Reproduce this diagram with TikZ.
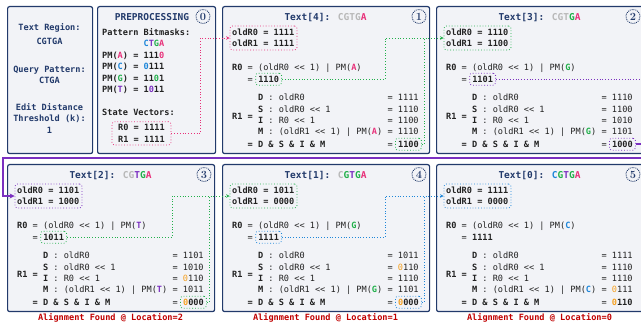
\documentclass[tikz,border=0pt]{standalone}
\usepackage{fontspec}
\newfontfamily\mono{DejaVu Sans Mono}
\usetikzlibrary{arrows.meta,calc}
\definecolor{navy}{HTML}{223A6B}
\definecolor{panelbg}{HTML}{F2F3F7}
\definecolor{textc}{HTML}{222222}
\definecolor{pinkc}{HTML}{E8317A}
\definecolor{greenc}{HTML}{22B04B}
\definecolor{bluec}{HTML}{1E86D9}
\definecolor{purplec}{HTML}{7B30C0}
\definecolor{orangec}{HTML}{F5A020}
\definecolor{grayc}{HTML}{B8B8B8}
\definecolor{redc}{HTML}{C00000}
\newcommand\bodyf{\mono\fontsize{8.6}{10}\selectfont}
\newcommand\titlef{\mono\bfseries\fontsize{9.5}{11}\selectfont}
\newcommand\myshl{<\kern0pt<}
\newcommand\og[1]{\textcolor{orangec}{#1}}
\tikzset{
  panel/.style={draw=navy, line width=1.2pt, fill=panelbg, rounded corners=2pt,
    minimum width=207pt, minimum height=147pt, anchor=north west, inner sep=0pt},
  txt/.style={anchor=base west, inner sep=0pt, font=\bodyf, text=textc},
  btxt/.style={txt, font=\bodyf\bfseries},
  ctxt/.style={anchor=base, inner sep=0pt, font=\bodyf\bfseries, text=navy},
  ttl/.style={anchor=base, inner sep=0pt, font=\titlef, text=navy},
  numc/.style={circle, draw=navy, densely dotted, line width=0.9pt, minimum size=14pt,
    inner sep=0pt, font=\fontsize{11}{11}\selectfont\bfseries, text=navy},
  obox/.style={draw=#1, dotted, line width=0.8pt, rounded corners=2.5pt, inner sep=0pt, fill=panelbg},
  vbox/.style={obox=#1, anchor=base west, inner xsep=2.6pt, inner ysep=2pt,
    text height=7.3pt, text depth=0.7pt, font=\bodyf\bfseries, text=textc},
  conn/.style={draw=#1, dotted, line width=0.8pt, -{Stealth[length=3.5pt,width=3.5pt]}},
  connl/.style={draw=#1, dotted, line width=0.8pt},
  pthick/.style={draw=purplec, line width=1.8pt, -{Stealth[length=5pt,width=5pt]}},
  lab/.style={anchor=base, inner sep=0pt, font=\bodyf\bfseries, text=redc}
}
\newcommand\calcrows[6]{%
  \node[txt] (#1c) at (10,64.5) {\textbf{R0} = (oldR0 \myshl{} 1) | PM(\textbf{#2})};
  \node[txt] (#1d) at (25.53,76.5) {=};
  \node[txt] (#1e) at (35.89,95) {\textbf{D} : oldR0};
  \node[txt] (#1f) at (165.34,95) {= #3};
  \node[txt] (#1g) at (35.89,106.3) {\textbf{S} : oldR0 \myshl{} 1};
  \node[txt] (#1h) at (165.34,106.3) {= #4};
  \node[txt] (#1i) at (35.89,117.6) {\textbf{I} : R0 \myshl{} 1};
  \node[txt] (#1j) at (165.34,117.6) {= #5};
  \node[txt] (#1k) at (35.89,128.9) {\textbf{M} : (oldR1 \myshl{} 1) | PM(\textbf{#2})};
  \node[txt] (#1l) at (165.34,128.9) {= #6};
  \node[btxt] (#1m) at (10,114) {R1 =};
  \node[btxt] (#1n) at (25.53,141.5) {= D \& S \& I \& M};
  \node[txt] (#1o) at (165.34,141.5) {=};
}
\newcommand\oldbox[4]{%
  \node[obox=#2, minimum width=67pt, minimum height=24pt] (#1old) at (41.5,32) {};
  \node[btxt] (#1oa) at (10,29.5) {oldR0 = #3};
  \node[btxt] (#1ob) at (10,41) {oldR1 = #4};
}
\begin{document}
\begin{tikzpicture}[x=1pt,y=-1pt]
\useasboundingbox (0,0) rectangle (641,326);

% ---------- info panel ----------
\node[panel, minimum width=85pt] (PA) at (7,6) {};
\node[ctxt] (pa1) at (49.5,31) {Text Region:};
\node[ctxt] (pa2) at (49.5,45) {CGTGA};
\node[ctxt] (pa3) at (49.5,73) {Query Pattern:};
\node[ctxt] (pa4) at (49.5,84) {CTGA};
\node[ctxt] (pa5) at (49.5,111) {Edit Distance};
\node[ctxt] (pa6) at (49.5,122) {Threshold (k):};
\node[ctxt] (pa7) at (49.5,134) {1};

% ---------- preprocessing ----------
\node[panel, minimum width=118pt] (PB) at (97,6) {};
\node[ttl] (pBt) at (152,20.5) {PREPROCESSING};
\node[numc] (pBn) at (203,16.5) {0};
\node[btxt] (pB1) at (102,36) {Pattern Bitmasks:};
\node[btxt] (pB2) at (143.4,46.5) {\textcolor{bluec}{C}\textcolor{purplec}{T}\textcolor{greenc}{G}\textcolor{pinkc}{A}};
\node[btxt] (pB3) at (102,58.2) {PM(\textcolor{pinkc}{A}) = 111\textcolor{pinkc}{0}};
\node[btxt] (pB4) at (102,69.9) {PM(\textcolor{bluec}{C}) = \textcolor{bluec}{0}111};
\node[btxt] (pB5) at (102,81.5) {PM(\textcolor{greenc}{G}) = 11\textcolor{greenc}{0}1};
\node[btxt] (pB6) at (102,92.8) {PM(\textcolor{purplec}{T}) = 1\textcolor{purplec}{0}11};
\node[btxt] (pB7) at (102,115.9) {State Vectors:};
\node[obox=pinkc, minimum width=59pt, minimum height=23.3pt] (pBbox) at (141.5,133.35) {};
\node[btxt] (pB8) at (118,130.9) {R0 = 1111};
\node[btxt] (pB9) at (118,142.3) {R1 = 1111};

% ---------- panel 1 ----------
\node[panel] (P1) at (222,6) {};
\begin{scope}[shift={(222,6)}]
  \node[ttl] (p1t) at (103.5,14.5) {Text[4]: \textcolor{grayc}{CGTG}\textcolor{pinkc}{A}};
  \node[numc] (p1n) at (197,10.5) {1};
  \oldbox{p1}{pinkc}{1111}{1111}
  \calcrows{p1}{\textcolor{pinkc}{A}}{1111}{1110}{1100}{1110}
  \node[vbox=greenc] (p1r0) at (33.29,76.5) {1110};
  \node[vbox=greenc] (p1r1) at (173.09,141.5) {1100};
\end{scope}

% ---------- panel 2 ----------
\node[panel] (P2) at (436,6) {};
\begin{scope}[shift={(436,6)}]
  \node[ttl] (p2t) at (103.5,14.5) {Text[3]: \textcolor{grayc}{CGT}\textcolor{greenc}{G}\textcolor{pinkc}{A}};
  \node[numc] (p2n) at (197,10.5) {2};
  \oldbox{p2}{greenc}{1110}{1100}
  \calcrows{p2}{\textcolor{greenc}{G}}{1110}{1100}{1010}{1101}
  \node[vbox=purplec] (p2r0) at (33.29,76.5) {1101};
  \node[vbox=purplec] (p2r1) at (173.09,141.5) {1000};
\end{scope}

% ---------- panel 3 ----------
\node[panel] (P3) at (7,164) {};
\begin{scope}[shift={(7,164)}]
  \node[ttl] (p3t) at (103.5,14.5) {Text[2]: \textcolor{grayc}{CG}\textcolor{purplec}{T}\textcolor{greenc}{G}\textcolor{pinkc}{A}};
  \node[numc] (p3n) at (197,10.5) {3};
  \oldbox{p3}{purplec}{1101}{1000}
  \calcrows{p3}{\textcolor{purplec}{T}}{1101}{1010}{\og{0}110}{1011}
  \node[vbox=greenc] (p3r0) at (33.29,76.5) {1011};
  \node[vbox=greenc] (p3r1) at (173.09,141.5) {\og{0}000};
  \node[lab] (p3lab) at (103.5,157) {Alignment Found @ Location=2};
\end{scope}

% ---------- panel 4 ----------
\node[panel] (P4) at (222,164) {};
\begin{scope}[shift={(222,164)}]
  \node[ttl] (p4t) at (103.5,14.5) {Text[1]: \textcolor{grayc}{C}\textcolor{greenc}{G}\textcolor{purplec}{T}\textcolor{greenc}{G}\textcolor{pinkc}{A}};
  \node[numc] (p4n) at (197,10.5) {4};
  \oldbox{p4}{greenc}{1011}{0000}
  \calcrows{p4}{\textcolor{greenc}{G}}{1011}{\og{0}110}{1110}{1101}
  \node[vbox=bluec] (p4r0) at (33.29,76.5) {1111};
  \node[vbox=bluec] (p4r1) at (173.09,141.5) {\og{0}000};
  \node[lab] (p4lab) at (103.5,157) {Alignment Found @ Location=1};
\end{scope}

% ---------- panel 5 ----------
\node[panel] (P5) at (436,164) {};
\begin{scope}[shift={(436,164)}]
  \node[ttl] (p5t) at (103.5,14.5) {Text[0]: \textcolor{bluec}{C}\textcolor{greenc}{G}\textcolor{purplec}{T}\textcolor{greenc}{G}\textcolor{pinkc}{A}};
  \node[numc] (p5n) at (197,10.5) {5};
  \oldbox{p5}{bluec}{1111}{0000}
  \calcrows{p5}{\textcolor{bluec}{C}}{1111}{1110}{1110}{\og{0}111}
  \node[btxt] (p5r0) at (35.89,76.5) {1111};
  \node[btxt] (p5r1) at (175.69,141.5) {\og{0}110};
  \node[lab] (p5lab) at (103.5,157) {Alignment Found @ Location=0};
\end{scope}

% ---------- connectors ----------
\draw[conn=pinkc] (pBbox.east) -- ++(29,0) |- (p1old.west);

\draw[conn=greenc] (p1r0.east) -- ++(103,0) |- (p2old.west);
\draw[connl=greenc] (p1r1.east) -- ++(2.5,0) coordinate (p1k) -- (p1k |- p2old.west);

\draw[connl=purplec] (p2r0.east) -- ++(160,0);
\coordinate (wrapL) at (3,158);
\draw[pthick] (p2r1.east) -- ++(14,0) |- (wrapL) |- (p3old.west);

\draw[conn=greenc] (p3r0.east) -- ++(105,0) |- (p4old.west);
\draw[connl=greenc] (p3r1.east) -- ++(2.5,0) coordinate (p3k) -- (p3k |- p4old.west);

\draw[conn=bluec] (p4r0.east) -- ++(103,0) |- (p5old.west);
\draw[connl=bluec] (p4r1.east) -- ++(2.5,0) coordinate (p4k) -- (p4k |- p5old.west);
\end{tikzpicture}
\end{document}
